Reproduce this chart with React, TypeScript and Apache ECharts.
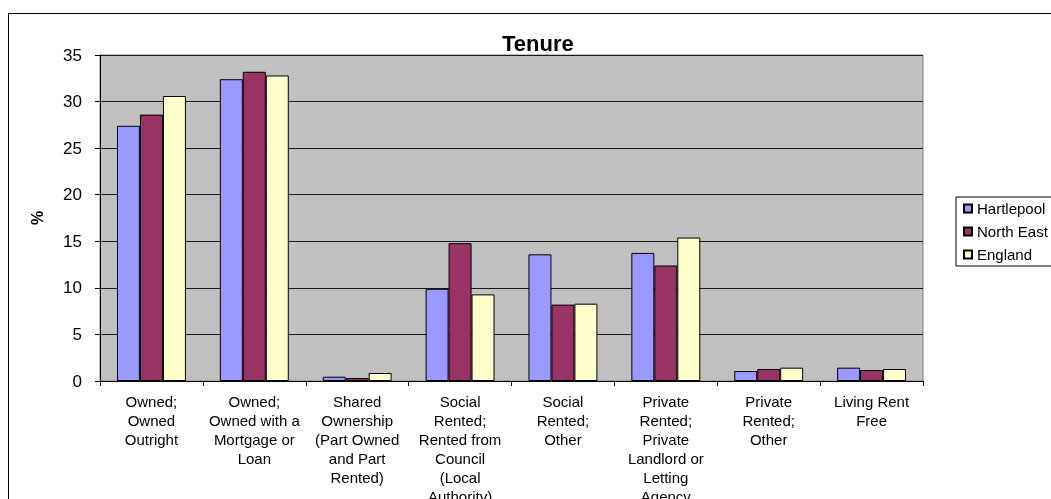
import React, { useEffect, useRef } from "react";
import * as echarts from "echarts";

const categories = [
  "Owned; Owned Outright",
  "Owned; Owned with a Mortgage or Loan",
  "Shared Ownership (Part Owned and Part Rented)",
  "Social Rented; Rented from Council (Local Authority)",
  "Social Rented; Other",
  "Private Rented; Private Landlord or Letting Agency",
  "Private Rented; Other",
  "Living Rent Free",
];
const categoryLabels = [
  "Owned;\nOwned\nOutright",
  "Owned;\nOwned with a\nMortgage or\nLoan",
  "Shared\nOwnership\n(Part Owned\nand Part\nRented)",
  "Social\nRented;\nRented from\nCouncil\n(Local\nAuthority)",
  "Social\nRented;\nOther",
  "Private\nRented;\nPrivate\nLandlord or\nLetting\nAgency",
  "Private\nRented;\nOther",
  "Living Rent\nFree",
];
const hartlepool = [27.4, 32.4, 0.46, 9.9, 13.6, 13.75, 1.07, 1.43];
const northEast = [28.6, 33.2, 0.32, 14.8, 8.2, 12.4, 1.29, 1.18];
const england = [30.6, 32.8, 0.86, 9.3, 8.3, 15.4, 1.43, 1.29];
const seriesNames = ["Hartlepool", "North East", "England"];
const seriesColors = ["#9999FF", "#993366", "#FFFFCC"];

export default function App() {
  const ref = useRef<HTMLDivElement>(null);
  useEffect(() => {
    if (!ref.current) return;
    const chart = echarts.init(ref.current, null, { renderer: "svg" });
    const font = "'Liberation Sans', Arial, sans-serif";
    const datasets = [hartlepool, northEast, england];
    chart.setOption({
      animation: false,
      textStyle: { fontFamily: font, color: "#000" },
      title: {
        text: "Tenure",
        left: 497,
        top: 27,
        textStyle: { fontFamily: font, fontSize: 22, fontWeight: "bold", color: "#000" },
      },
      legend: {
        orient: "vertical",
        left: 956,
        top: 197,
        padding: [4, 40, 4, 7],
        borderColor: "#000",
        borderWidth: 1,
        itemWidth: 8,
        itemHeight: 8,
        itemGap: 8,
        icon: "rect",
        data: seriesNames,
        textStyle: { fontFamily: font, fontSize: 15, color: "#000", lineHeight: 15 },
      },
      graphic: [
        {
          type: "rect",
          shape: { x: 8.5, y: 13.5, width: 1100, height: 600 },
          style: { fill: "none", stroke: "#000", lineWidth: 1 },
          silent: true,
        },
      ],
      grid: {
        left: 100,
        right: 128,
        top: 55,
        bottom: 118,
        show: true,
        backgroundColor: "#C0C0C0",
        borderColor: "#808080",
        borderWidth: 1,
        containLabel: false,
        outerBoundsMode: "none",
      },
      xAxis: {
        type: "category",
        data: categories,
        axisLine: { lineStyle: { color: "#000", width: 1 } },
        axisTick: { show: true, length: 5, lineStyle: { color: "#000" } },
        axisLabel: {
          interval: 0,
          margin: 11,
          fontSize: 15,
          lineHeight: 19,
          color: "#000",
          fontFamily: font,
          formatter: (_v: string, i: number) => categoryLabels[i],
        },
      },
      yAxis: {
        type: "value",
        min: 0,
        max: 35,
        interval: 5,
        name: "%",
        nameLocation: "middle",
        nameGap: 55,
        nameRotate: 90,
        nameTextStyle: { fontFamily: font, fontSize: 16, fontWeight: "bold", color: "#000" },
        axisLine: { show: true, lineStyle: { color: "#000", width: 1 } },
        axisTick: { show: true, length: 5, lineStyle: { color: "#000" } },
        axisLabel: { margin: 18, fontSize: 17, color: "#000", fontFamily: font },
        splitLine: { show: true, lineStyle: { color: "#1a1a1a", width: 1 } },
      },
      series: datasets.map((d, i) => ({
        name: seriesNames[i],
        type: "bar",
        data: d,
        barGap: "0%",
        barCategoryGap: "33%",
        itemStyle: { color: seriesColors[i], borderColor: "#000", borderWidth: 1 },
      })),
    });
    return () => chart.dispose();
  }, []);
  return (
    <div
      ref={ref}
      style={{ position: "fixed", left: 0, top: 0, width: 1051, height: 499 }}
    />
  );
}
